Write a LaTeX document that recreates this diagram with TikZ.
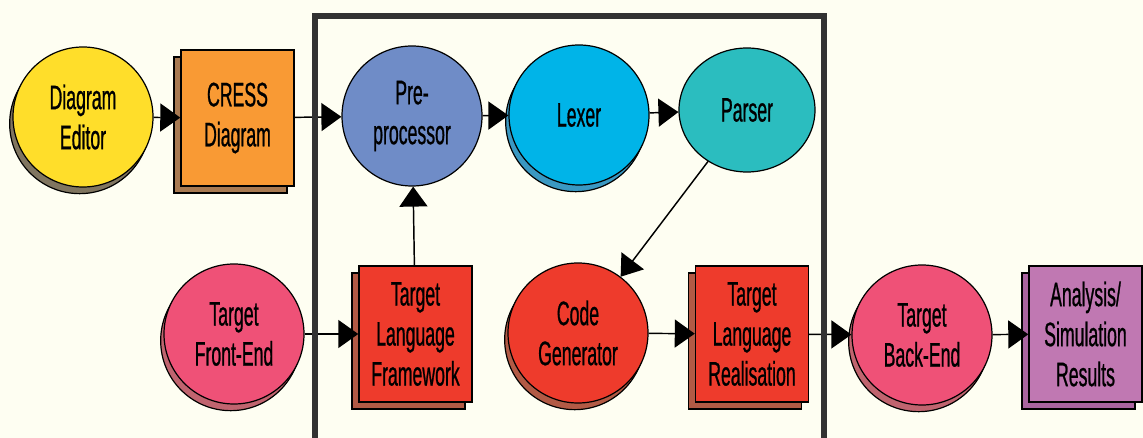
\documentclass[tikz,border=0pt]{standalone}
\usepackage{fontspec}
\setmainfont{Liberation Sans}[FakeStretch=0.52, FakeBold=0.7]
\usetikzlibrary{arrows.meta, shapes.geometric, shadows}
\definecolor{paper}{RGB}{254,254,242}
\definecolor{frameGrey}{RGB}{50,50,50}
\definecolor{editorYellow}{RGB}{255,222,42}
\definecolor{editorShadow}{RGB}{128,117,96}
\definecolor{cressOrange}{RGB}{249,154,52}
\definecolor{cressShadow}{RGB}{168,122,82}
\definecolor{prepBlue}{RGB}{111,140,199}
\definecolor{lexerBlue}{RGB}{0,180,232}
\definecolor{lexerShadow}{RGB}{58,152,194}
\definecolor{parserTeal}{RGB}{43,189,191}
\definecolor{endPink}{RGB}{239,81,119}
\definecolor{endShadow}{RGB}{192,100,111}
\definecolor{langRed}{RGB}{238,59,44}
\definecolor{langShadow}{RGB}{178,90,69}
\definecolor{resultPurple}{RGB}{192,120,178}
\definecolor{resultShadow}{RGB}{170,100,160}

\begin{document}
\begin{tikzpicture}[x=0.75pt, y=-0.75pt,
	label text/.style={align=center, text=black, font=\fontsize{25.5}{30}\selectfont},
	round/.style={circle, draw=black, line width=0.9pt, minimum size=105pt, inner sep=0pt, label text},
	oval/.style={ellipse, draw=black, line width=0.9pt, minimum width=102pt, minimum height=93pt, inner sep=0pt, label text},
	sheet/.style={rectangle, draw=black, line width=1.1pt, minimum width=84.75pt, minimum height=102pt, inner sep=0pt, label text},
	round shadow/.style={general shadow={shadow xshift=-2.5pt, shadow yshift=-5pt, fill=#1, draw=black, line width=0.9pt}},
	sheet shadow/.style={general shadow={shadow xshift=-5.25pt, shadow yshift=-5.25pt, fill=#1, draw=black, line width=1.1pt}},
	flow/.style={-{Triangle[length=15pt, width=21pt]}, line width=1.1pt}]

% Define coordinates.

	\coordinate (frameNW) at (315, 16);
	\coordinate (frameSE) at (824, 460);

	\fill [paper] (0, 0) rectangle (1143, 438);
	\useasboundingbox (0, 0) rectangle (1143, 438);

% Draw nodes.

	%top row
	\node [round, fill=editorYellow, round shadow=editorShadow] (editor) at (83, 117) {Diagram\\Editor};
	\node [sheet, fill=cressOrange, sheet shadow=cressShadow] (cress) at (237.5, 118) {CRESS\\Diagram};
	\node [round, fill=prepBlue] (prep) at (412, 116) {Pre-\\processor};
	\node [round, fill=lexerBlue, round shadow=lexerShadow] (lexer) at (579, 115) {Lexer};
	\node [oval, fill=parserTeal] (parser) at (747, 110) {Parser};

	%bottom row
	\node [round, fill=endPink, round shadow=endShadow] (frontend) at (234, 334) {Target\\Front-End};
	\node [sheet, fill=langRed, sheet shadow=langShadow] (framework) at (415.5, 334) {Target\\Language\\Framework};
	\node [round, fill=langRed, round shadow=langShadow] (codegen) at (578, 333) {Code\\Generator};
	\node [sheet, fill=langRed, sheet shadow=langShadow] (realise) at (752, 334) {Target\\Language\\Realisation};
	\node [round, fill=endPink, round shadow=endShadow] (backend) at (922, 335) {Target\\Back-End};
	\node [sheet, fill=resultPurple, sheet shadow=resultShadow] (results) at (1085.5, 334) {Analysis/\\Simulation\\Results};

% Draw arrows.

	\draw [flow] (editor) -- (cress);
	\draw [flow] (cress) -- (prep);
	\draw [flow] (prep) -- (lexer);
	\draw [flow] (lexer) -- (parser);
	\draw [flow] (parser) -- (codegen);
	\draw [flow] (framework) -- (prep);
	\draw [flow] (frontend) -- (framework);
	\draw [flow] (codegen) -- (realise);
	\draw [flow] (realise) -- (backend);
	\draw [flow] (backend) -- (results);

% Draw frame.

	\draw [frameGrey, line width=4pt] (frameNW) rectangle (frameSE);

\end{tikzpicture}
\end{document}
